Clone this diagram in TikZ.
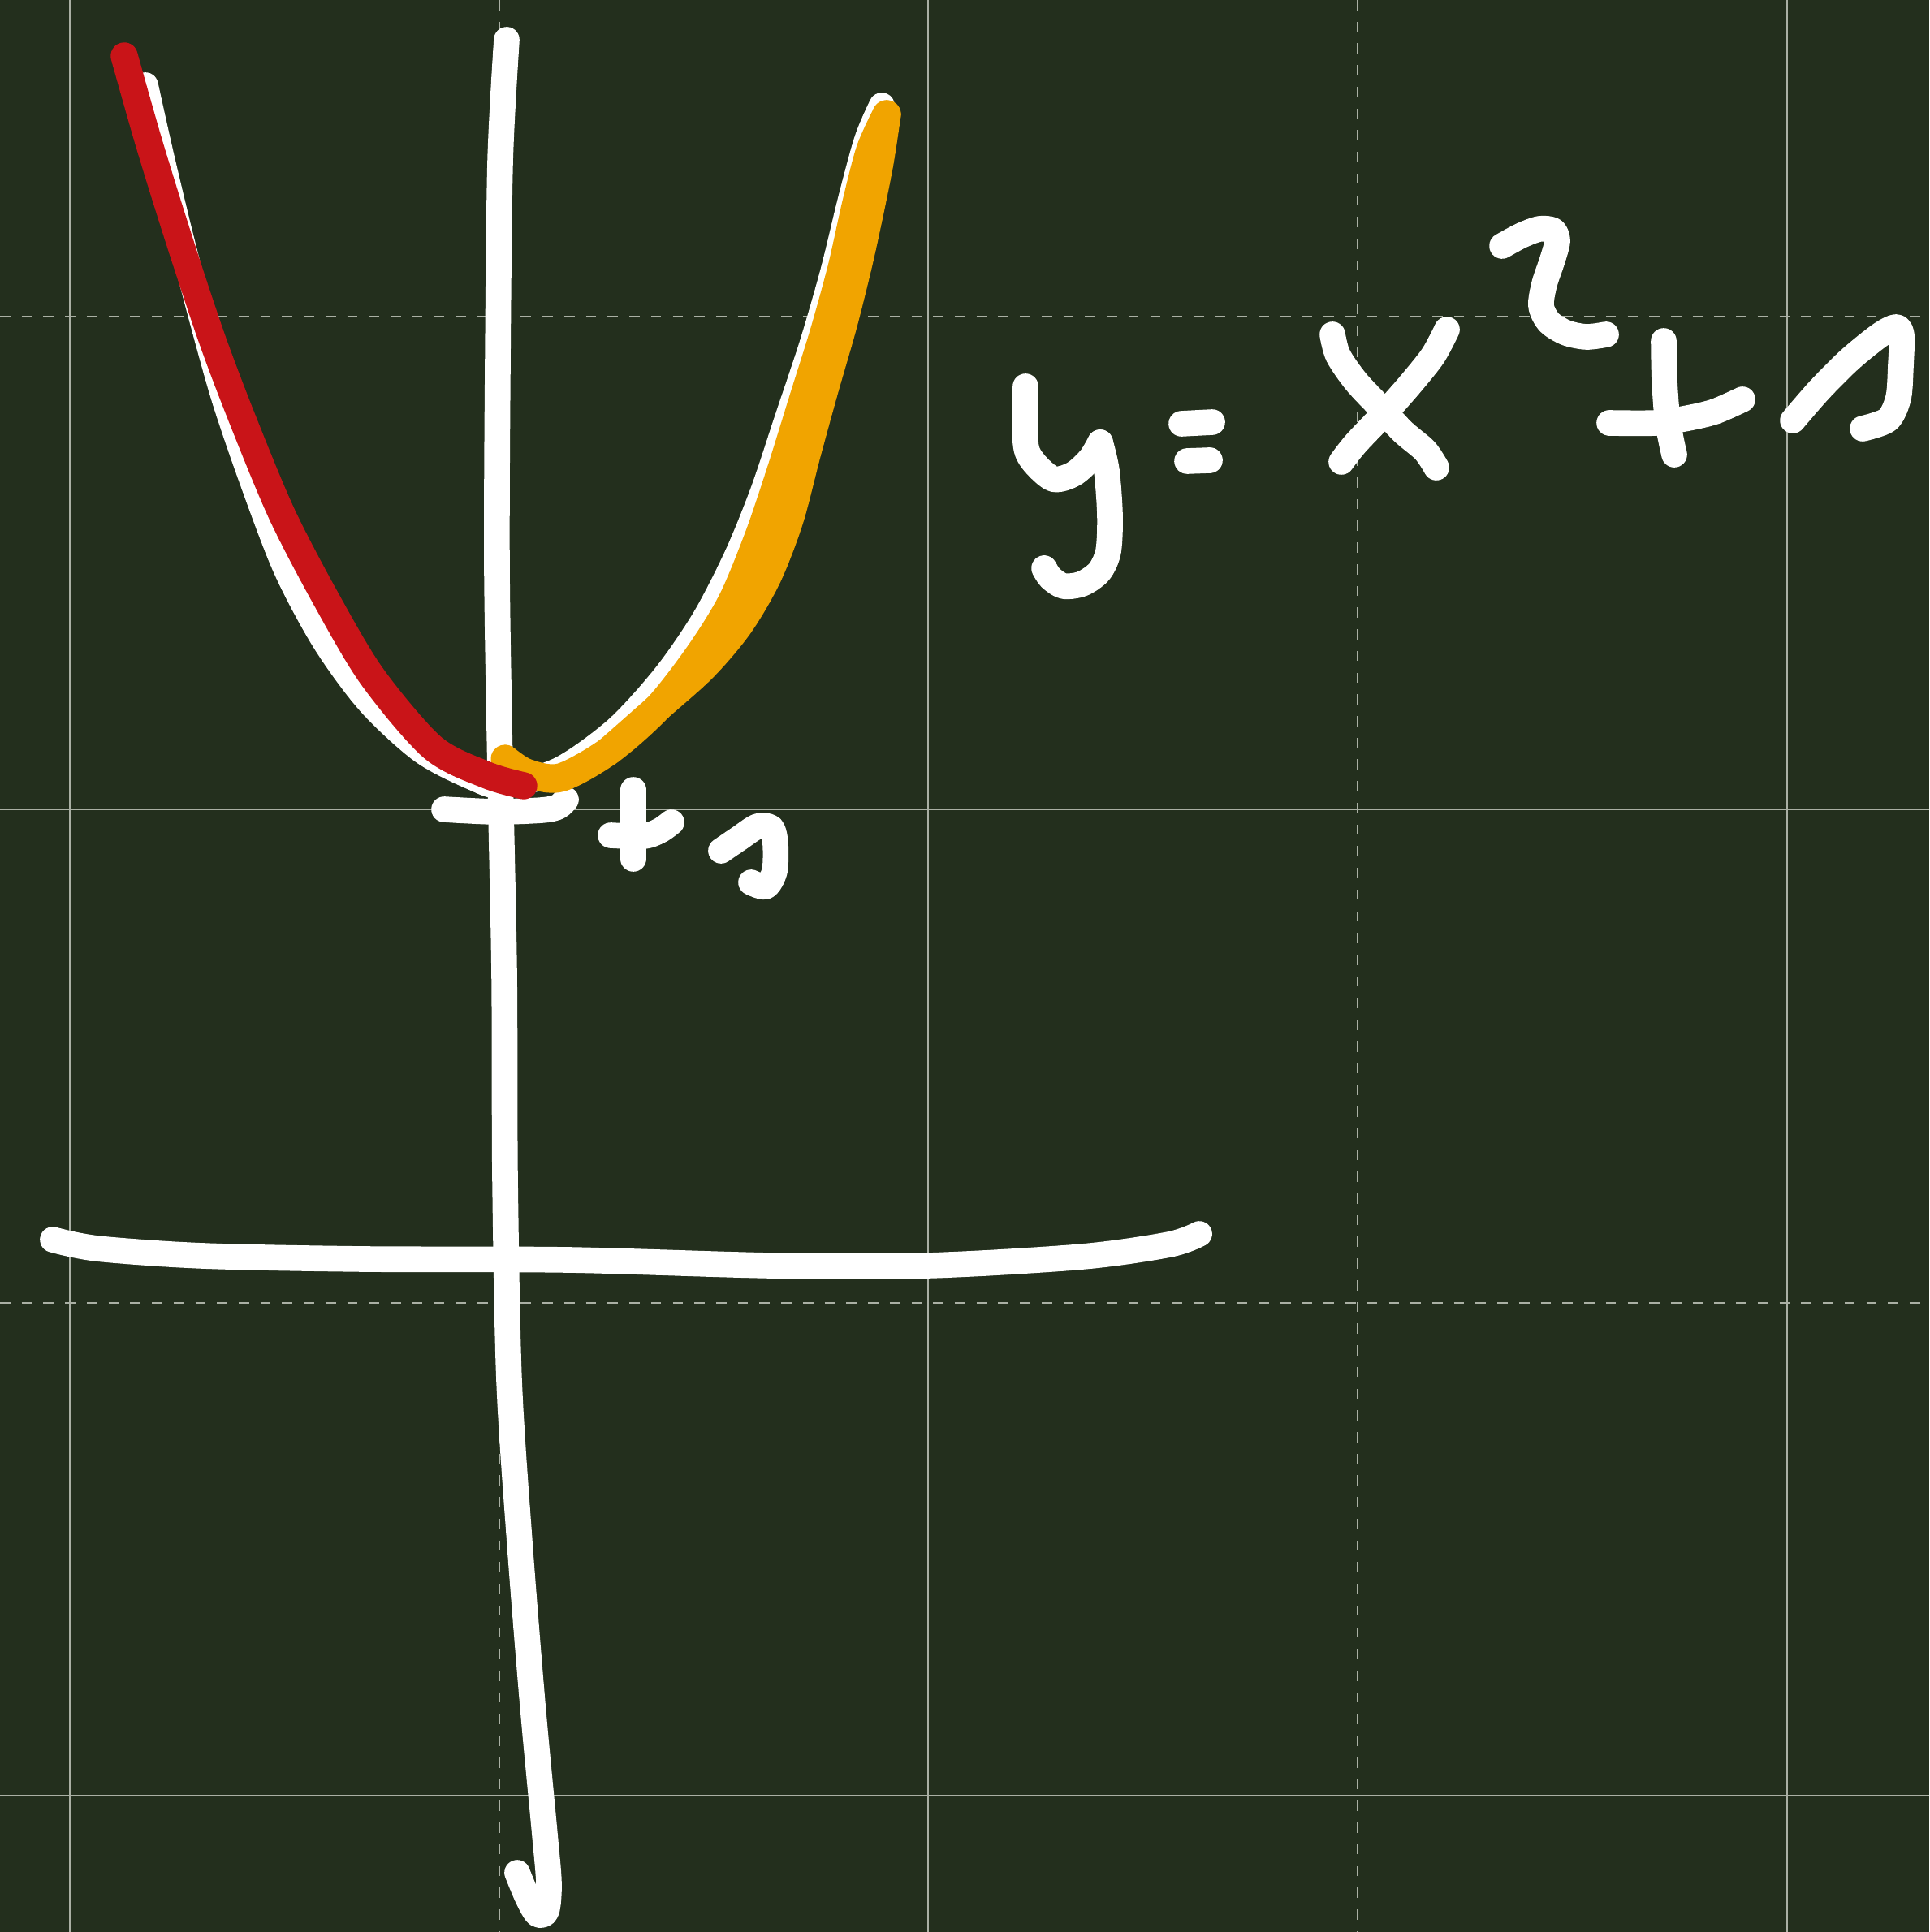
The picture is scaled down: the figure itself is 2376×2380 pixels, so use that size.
\documentclass[tikz,border=0pt]{standalone}
\usepackage{tikz}
\definecolor{board}{RGB}{35,47,29}
\definecolor{gridgray}{RGB}{170,176,164}
\definecolor{inkred}{RGB}{201,20,24}
\definecolor{inkorange}{RGB}{241,164,0}
\begin{document}
\begin{tikzpicture}[x=0.01cm,y=-0.01cm,
    ink/.style={line width=9pt,line cap=round,line join=round},
    chalk/.style={ink,white},
    redink/.style={ink,line width=9.5pt,inkred},
    orangeink/.style={ink,line width=10pt,inkorange},
    gridline/.style={gridgray,line width=0.45pt},
    gridhalf/.style={gridline,dash pattern=on 3.6pt off 4pt}]
        \useasboundingbox (0,0) rectangle (2376,2380);
        \fill[board] (0,0) rectangle (2376,2380);
        \foreach \gx in {86,1143,2201} \draw[gridline] (\gx,0) -- (\gx,2380);
        \foreach \gx in {615,1672} \draw[gridhalf] (\gx,0) -- (\gx,2380);
        \foreach \gy in {997,2212} \draw[gridline] (0,\gy) -- (2376,\gy);
        \foreach \gy in {390,1605} \draw[gridhalf] (0,\gy) -- (2376,\gy);
        \draw[chalk] plot[smooth] coordinates {(624,49) (616,200) (613,450) (612,700) (616,950) (621,1200) (622,1450) (627,1700) (640,1900) (656,2100) (671,2260) (676,2320) (673,2354) (662,2358) (650,2338) (637,2307)};
        \draw[chalk] plot[smooth] coordinates {(65,1527) (120,1538) (250,1547) (450,1551) (700,1552) (950,1559) (1143,1559) (1333,1548) (1440,1533) (1477,1520)};
        \draw[chalk] plot[smooth] coordinates {(179,105) (198,190) (222,290) (248,390) (276,490) (310,590) (352,700) (400,790) (455,865) (520,925) (583,958) (620,968) (690,948) (760,898) (820,832) (868,762) (908,684) (940,605) (970,515) (1000,425) (1026,335) (1048,245) (1068,172) (1086,130)};
        \draw[chalk] plot[smooth] coordinates {(547,997) (610,1000) (667,998) (687,994) (697,985)};
        \draw[chalk] (780,973) -- (780,1058);
        \draw[chalk] plot[smooth] coordinates {(752,1029) (793,1030) (813,1023) (827,1013)};
        \draw[chalk] plot[smooth] coordinates {(888,1048) (910,1033) (933,1018) (950,1020) (955,1040) (954,1073) (943,1092) (925,1087)};
        \draw[chalk] plot[smooth] coordinates {(1263,476) (1263,545) (1272,568) (1297,590) (1322,584) (1343,565) (1355,545)};
        \draw[chalk] plot[smooth] coordinates {(1355,545) (1363,580) (1367,635) (1365,679) (1354,704) (1333,719) (1310,722) (1294,712) (1286,700)};
        \draw[chalk] (1455,522) -- (1493,520);
        \draw[chalk] (1462,568) -- (1490,567);
        \draw[chalk] plot[smooth] coordinates {(1641,412) (1648,438) (1670,470) (1700,502) (1728,532) (1755,555) (1769,576)};
        \draw[chalk] plot[smooth] coordinates {(1782,406) (1765,438) (1738,472) (1708,506) (1670,546) (1652,569)};
        \draw[chalk] plot[smooth] coordinates {(1850,303) (1874,290) (1896,282) (1913,284) (1918,297) (1912,320) (1902,350) (1898,377) (1908,397) (1929,410) (1954,415) (1978,412)};
        \draw[chalk] plot[smooth] coordinates {(2049,420) (2050,470) (2054,520) (2062,560)};
        \draw[chalk] plot[smooth] coordinates {(1982,521) (2039,521) (2079,515) (2112,507) (2146,492)};
        \draw[chalk] plot[smooth] coordinates {(2208,518) (2241,480) (2278,443) (2315,413) (2335,403) (2342,413) (2341,450) (2338,490) (2325,517) (2294,528)};
        \draw[orangeink] plot[smooth] coordinates {(622,935) (648,952) (690,958) (750,925) (810,872) (862,805) (902,740) (935,660) (962,580) (990,490) (1015,410) (1037,330) (1055,250) (1072,185) (1092,141)};
        \draw[orangeink] plot[smooth] coordinates {(1092,141) (1083,200) (1071,260) (1057,324) (1038,400) (1015,480) (993,560) (972,640) (945,710) (910,770) (866,822) (810,872) (750,925)};
        \draw[redink] plot[smooth] coordinates {(153,69) (184,178) (222,300) (262,420) (300,520) (347,633) (400,735) (458,833) (533,921) (600,955) (645,968)};
    \end{tikzpicture}
\end{document}
